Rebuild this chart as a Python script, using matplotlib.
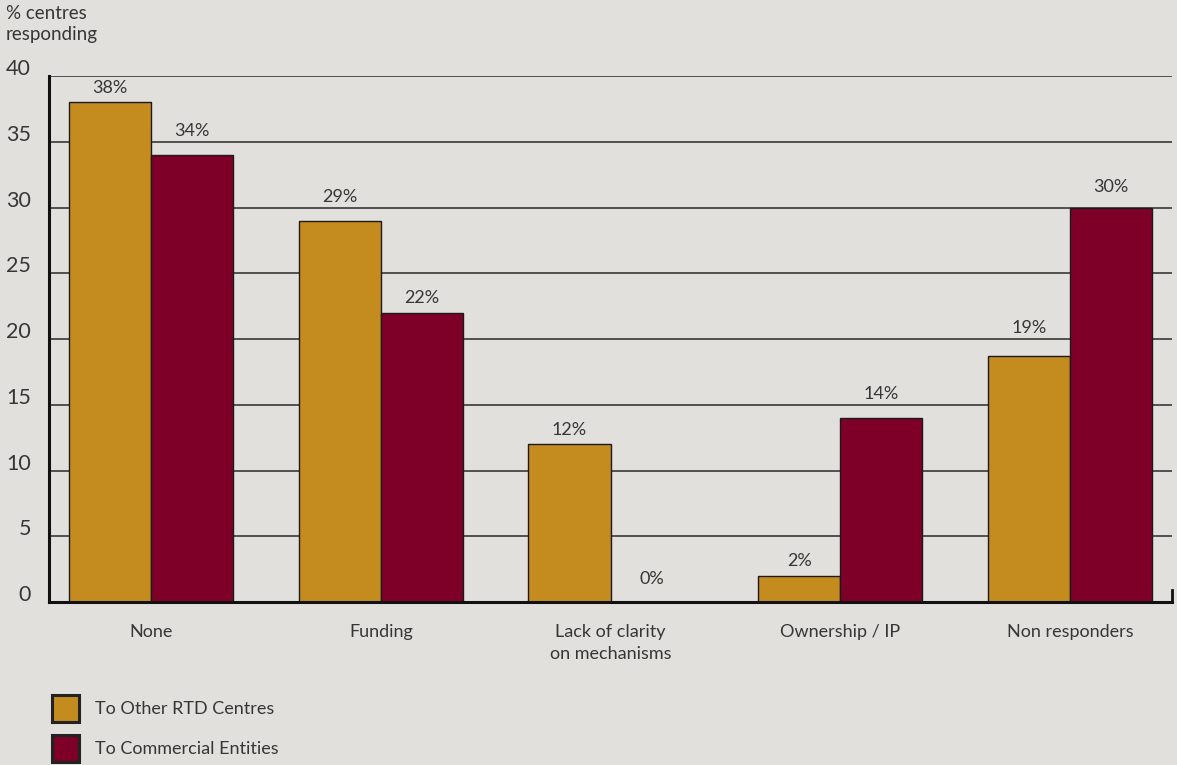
import matplotlib
matplotlib.use("Agg")
import matplotlib.pyplot as plt
import matplotlib.transforms as mtransforms
from matplotlib.patches import Rectangle
import numpy as np

categories = ["None", "Funding", "Lack of clarity\non mechanisms", "Ownership / IP", "Non responders"]
rtd_centres = [38, 29, 12, 2, 18.7]
commercial = [34, 22, 0, 14, 30]
series_names = ["To Other RTD Centres", "To Commercial Entities"]
y_ticks = [0, 5, 10, 15, 20, 25, 30, 35, 40]

BG = "#e2e0dc"
ORANGE = "#c48b1f"
WINE = "#7e0028"
TEXT = "#363636"
RULE = "#2a2a2a"

plt.rcParams["font.family"] = ["Lato", "DejaVu Sans"]

fig = plt.figure(figsize=(11.77, 7.65), dpi=100, facecolor=BG)
ax = fig.add_axes([49 / 1177, 1 - 602 / 765, (1172 - 49) / 1177, (602 - 76) / 765])
ax.set_facecolor(BG)

x = np.arange(len(categories))
w = 0.357
ax.bar(x - w / 2, rtd_centres, width=w, color=ORANGE, edgecolor="#1a1a1a", linewidth=1.0, zorder=3)
ax.bar(x + w / 2, commercial, width=w, color=WINE, edgecolor="#1a1a1a", linewidth=1.0, zorder=3)

ax.set_xlim(-0.444, len(categories) - 1 + 0.444)
ax.set_ylim(0, 40)

# horizontal rules
for t in y_ticks[1:]:
    ax.axhline(t, color=RULE, linewidth=1.1, zorder=1)

for s in ["top", "right"]:
    ax.spines[s].set_visible(False)
for s in ["left", "bottom"]:
    ax.spines[s].set_linewidth(2.2)
    ax.spines[s].set_color("#111111")
    ax.spines[s].set_zorder(4)

# small closing tick at the right end of the base line
ax.plot([1, 1], [0, 0.022], transform=ax.transAxes, color="#111111", linewidth=2.0, clip_on=False, zorder=5)

# y tick labels, lifted slightly above the rules
ax.set_yticks([])
ax.set_xticks([])
lift = mtransforms.offset_copy(ax.get_yaxis_transform(), fig=fig, x=-13, y=5, units="points")
for t in y_ticks:
    ax.text(0, t, str(t), transform=lift, ha="right", va="center", fontsize=15.5, color=TEXT)

# category labels
cat_tr = mtransforms.offset_copy(ax.get_xaxis_transform(), fig=fig, x=0, y=-16, units="points")
for xi, c in zip(x, categories):
    ax.text(xi, 0, c, transform=cat_tr, ha="center", va="top", fontsize=13, color=TEXT, linespacing=1.45)


def label_base(v):
    """Baseline for a value label: just above the bar, kept clear of the rules."""
    base = max(v + 0.7, 1.4)
    for g in y_ticks[1:-1]:
        if g == v:
            return g + 1.2
        if v < g < base + 1.1:
            return g + 0.45
    return base


for xi, v in zip(x, rtd_centres):
    ax.text(xi - w / 2, label_base(v), f"{v:.0f}%", ha="center", va="baseline", fontsize=13, color=TEXT)
for xi, v in zip(x, commercial):
    ax.text(xi + w / 2, label_base(v), f"{v:.0f}%", ha="center", va="baseline", fontsize=13, color=TEXT)

# axis title
fig.text(6 / 1177, 1 - 5 / 765, "% centres\nresponding", ha="left", va="top", fontsize=13.5,
         color=TEXT, linespacing=1.3)

# legend
for i, (name, col) in enumerate(zip(series_names, [ORANGE, WINE])):
    y0 = 1 - (722 + 40 * i) / 765
    fig.patches.append(Rectangle((52 / 1177, y0), 27 / 1177, 27 / 765, transform=fig.transFigure,
                                 facecolor=col, edgecolor="#222222", linewidth=2.2))
    fig.text(95 / 1177, y0 + 13.5 / 765, name, ha="left", va="center", fontsize=13, color=TEXT)

fig.savefig("out.png", dpi=100, facecolor=BG)
